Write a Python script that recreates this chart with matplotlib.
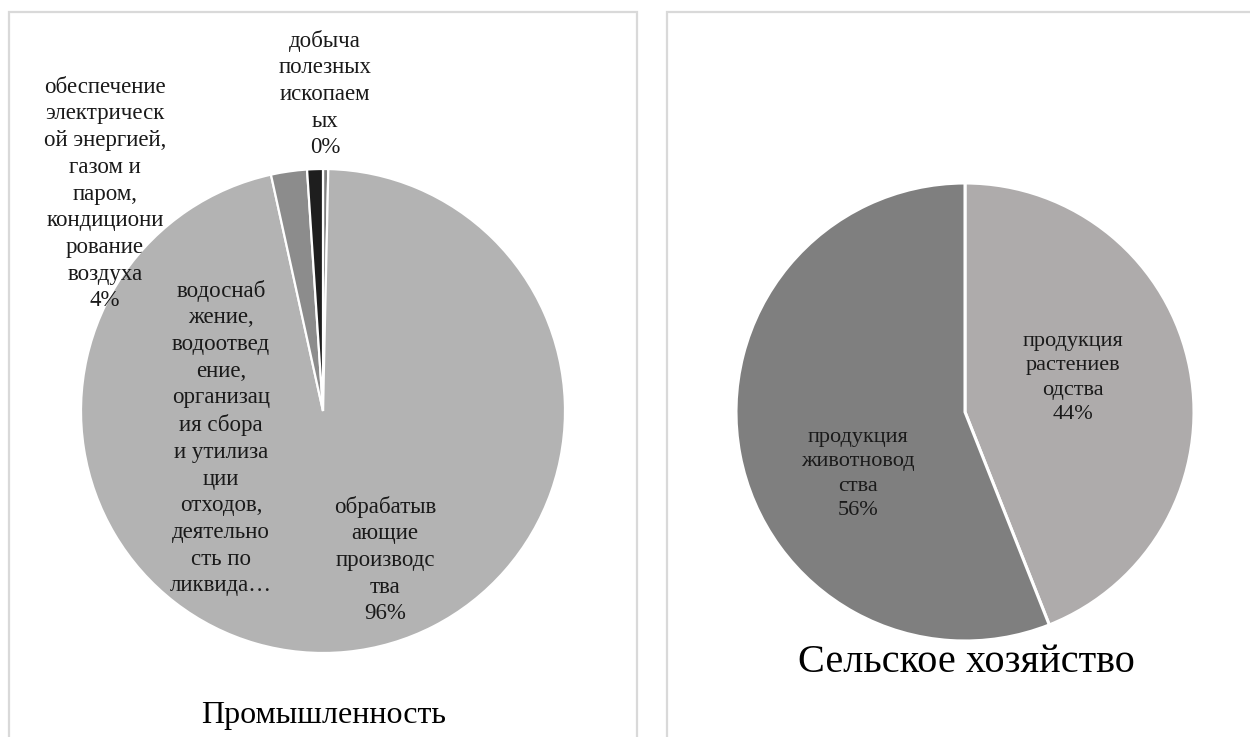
import matplotlib.pyplot as plt
from matplotlib.patches import Rectangle

plt.rcParams['font.family'] = ['Liberation Serif', 'DejaVu Serif']

# Промышленность
ind_labels = ['добыча\nполезных\nископаем\nых\n0%',
              'обрабатыв\nающие\nпроизводс\nтва\n96%',
              'обеспечение\nэлектрическ\nой энергией,\nгазом и\nпаром,\nкондициони\nрование\nвоздуха\n4%',
              'водоснаб\nжение,\nводоотвед\nение,\nорганизац\nия сбора\nи утилиза\nции\nотходов,\nдеятельно\nсть по\nликвида…']
ind_values = [0.35, 96.2, 2.4, 1.05]
ind_colors = ['#7F7F7F', '#B3B3B3', '#8C8C8C', '#1E1E1E']

# Сельское хозяйство
agr_labels = ['продукция\nрастениев\nодства\n44%',
              'продукция\nживотновод\nства\n56%']
agr_values = [44, 56]
agr_colors = ['#AEABAB', '#7F7F7F']

H = 737


def img(x, y):
    # image pixel coords -> axes data coords (y up)
    return x, H - y


fig = plt.figure(figsize=(12.5, 7.37), dpi=100)
ax = fig.add_axes([0, 0, 1, 1])

# chart frames
ax.add_patch(Rectangle(img(9, 747), 628, 735, fill=False, edgecolor='#D9D9D9', lw=1.6))
ax.add_patch(Rectangle(img(667, 747), 600, 735, fill=False, edgecolor='#D9D9D9', lw=1.6))

ax.pie(ind_values, colors=ind_colors, startangle=90, counterclock=False,
       center=img(323, 411), radius=242,
       wedgeprops=dict(edgecolor='white', linewidth=1.6))
ax.pie(agr_values, colors=agr_colors, startangle=90, counterclock=False,
       center=img(965, 412), radius=229,
       wedgeprops=dict(edgecolor='white', linewidth=2.2))

ind_pos = [(325, 94), (385, 560), (105, 194), (221, 438)]
for lab, (x, y) in zip(ind_labels, ind_pos):
    ax.text(*img(x, y), lab, ha='center', va='center', fontsize=16.5,
            linespacing=1.355, color='#1a1a1a')

agr_pos = [(1073, 378), (858, 474)]
for lab, (x, y) in zip(agr_labels, agr_pos):
    ax.text(*img(x, y), lab, ha='center', va='center', fontsize=16,
            linespacing=1.38, color='#1a1a1a')

ax.text(*img(324, 716), 'Промышленность', ha='center', va='center', fontsize=23)
ax.text(*img(966, 662), 'Сельское хозяйство', ha='center', va='center', fontsize=29)

ax.set_xlim(0, 1250)
ax.set_ylim(0, H)
ax.set_aspect('auto')
ax.axis('off')

fig.savefig('out.png', dpi=100)
